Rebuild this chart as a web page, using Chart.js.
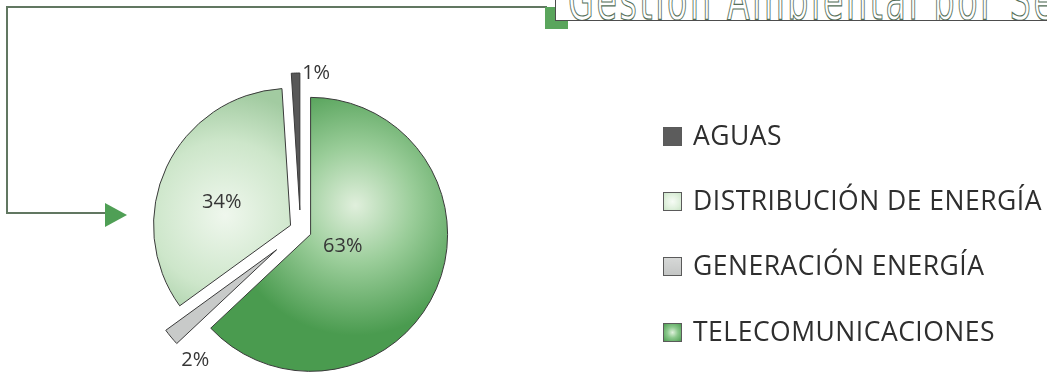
<!DOCTYPE html>
<html>
<head>
<meta charset="utf-8">
<script src="https://cdn.jsdelivr.net/npm/chart.js@4.4.1/dist/chart.umd.min.js"></script>
<style>
  html, body { margin:0; padding:0; background:#fff; }
  body { width:1047px; height:373px; overflow:hidden; position:relative; font-family:"Open Sans", "Noto Sans", sans-serif; }
  #c { position:absolute; left:0; top:0; }
  .ln { position:absolute; background:#617761; }
  #arrow { position:absolute; left:105px; top:203px; width:0; height:0;
           border-left:22px solid #4f9f55; border-top:12px solid transparent; border-bottom:12px solid transparent; }
  #sq { position:absolute; left:545px; top:7px; width:23px; height:22px; background:#5aa55c; }
  #titlebox { position:absolute; left:555px; top:-10px; width:500px; height:30px; background:#fff;
              border-left:1px solid #4d4d4d; border-bottom:1.5px solid #4d4d4d; overflow:hidden; }
  #title { position:absolute; left:12px; top:-18px; white-space:nowrap; font-family:"Liberation Sans Narrow","DejaVu Sans Condensed",sans-serif;
           font-size:56px; line-height:56px; letter-spacing:4px; color:#fff; -webkit-text-stroke:1.2px #56705a;
           transform:scaleX(0.66); transform-origin:0 0; }
  #legend { position:absolute; left:663px; top:0; }
  .item { position:absolute; left:0; white-space:nowrap; height:26px; }
  .box { position:absolute; left:0; top:3px; width:19px; height:19px; box-sizing:border-box; border:1px solid #5a5a5a; }
  .lab { position:absolute; left:30px; top:-5px; font-size:26.5px; letter-spacing:0.5px; line-height:32px; color:#2e2e2e; }
</style>
</head>
<body>
<canvas id="c" width="1047" height="373"></canvas>

<div class="ln" style="left:7px;top:6px;width:540px;height:2px;"></div>
<div class="ln" style="left:6px;top:6px;width:2px;height:208px;"></div>
<div class="ln" style="left:6px;top:212px;width:102px;height:2px;"></div>
<div id="arrow"></div>
<div id="sq"></div>
<div id="titlebox"><div id="title">Gestión Ambiental por Sectores</div></div>

<div id="legend"></div>

<script>
// ---- data ----
const categories = ['TELECOMUNICACIONES', 'GENERACIÓN ENERGÍA', 'DISTRIBUCIÓN DE ENERGÍA', 'AGUAS'];
const shares = [63, 2, 34, 1];
const valueLabels = ['63%', '2%', '34%', '1%'];

// ---- styles ----
const flatColors = ['#5aab5d', '#c8cac9', '#dcefd9', '#585858'];
const legendBoxes = [
  'radial-gradient(circle, #dff1dc 0%, #8cc98d 45%, #4e9f53 100%)',
  'linear-gradient(#d6d8d7, #c4c6c5)',
  'radial-gradient(circle, #f7fcf6 0%, #dff0dc 60%, #cbe5c8 100%)',
  '#5c5c5c'
];
const shade = [
  { gx: 0.40, gy: -0.18, gr: 0.95, stops: [[0, '#e0efdc'], [0.45, '#9acd99'], [1, '#4a9b4f']] },
  null,
  { gx: -0.55, gy: -0.11, gr: 0.9, stops: [[0, '#eff7ed'], [0.6, '#cde6ca'], [1, '#a2cba1']] },
  null
];
const R = 137;
const explode = [11, 31, 11, 20];
const labelPlace = [ {f:0.33, da:-2.8}, {f:1.22, da:-11.4}, {f:0.61, da:-5.6}, {f:1.15, da:7.5} ];

function sliceColor(ctx) {
  const i = ctx.dataIndex;
  const s = shade[i];
  const a = ctx.chart.chartArea;
  if (!s || !a) return flatColors[i];
  const cx = (a.left + a.right) / 2 + s.gx * R;
  const cy = (a.top + a.bottom) / 2 + s.gy * R;
  const g = ctx.chart.ctx.createRadialGradient(cx, cy, 0, cx, cy, s.gr * R);
  s.stops.forEach(st => g.addColorStop(st[0], st[1]));
  return g;
}

const explodePlugin = {
  id: 'explodeSlices',
  afterDatasetsUpdate(chart) {
    const meta = chart.getDatasetMeta(0);
    meta.data.forEach((arc, i) => {
      const mid = (arc.startAngle + arc.endAngle) / 2;
      arc.x += Math.cos(mid) * explode[i];
      arc.y += Math.sin(mid) * explode[i];
    });
  }
};

const labelPlugin = {
  id: 'sliceLabels',
  afterDatasetsDraw(chart) {
    const a = chart.chartArea;
    const cx = (a.left + a.right) / 2, cy = (a.top + a.bottom) / 2;
    const ctx = chart.ctx;
    const meta = chart.getDatasetMeta(0);
    ctx.save();
    ctx.font = '20px "Open Sans", "Noto Sans", sans-serif';
    ctx.fillStyle = '#363636';
    ctx.textAlign = 'center';
    ctx.textBaseline = 'middle';
    meta.data.forEach((arc, i) => {
      const p = labelPlace[i];
      const ang = (arc.startAngle + arc.endAngle) / 2 + p.da * Math.PI / 180;
      ctx.fillText(valueLabels[i], cx + Math.cos(ang) * p.f * R, cy + Math.sin(ang) * p.f * R);
    });
    ctx.restore();
  }
};

new Chart(document.getElementById('c'), {
  type: 'pie',
  data: {
    labels: categories,
    datasets: [{
      data: shares,
      backgroundColor: sliceColor,
      borderColor: '#3a3a3a',
      borderWidth: 1,
      radius: R
    }]
  },
  options: {
    responsive: false,
    animation: false,
    layout: { padding: { left: 200, right: 646, top: 130, bottom: 43 } },
    plugins: { legend: { display: false }, tooltip: { enabled: false }, title: { display: false } }
  },
  plugins: [explodePlugin, labelPlugin]
});

// HTML legend (reverse order of slices)
const legend = document.getElementById('legend');
const legendTops = [124, 189, 254, 320];
[3, 2, 1, 0].forEach((idx, k) => {
  const it = document.createElement('div');
  it.className = 'item';
  it.style.top = legendTops[k] + 'px';
  const b = document.createElement('div');
  b.className = 'box';
  b.style.background = legendBoxes[idx];
  const t = document.createElement('div');
  t.className = 'lab';
  t.textContent = categories[idx];
  it.appendChild(b); it.appendChild(t);
  legend.appendChild(it);
});
</script>
</body>
</html>
